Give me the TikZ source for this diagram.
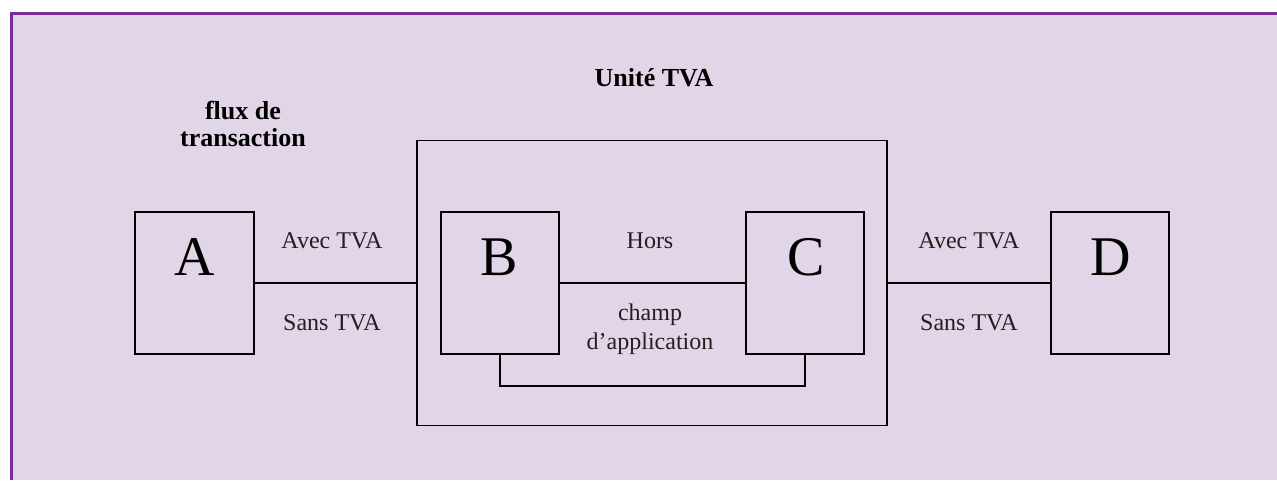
\documentclass[tikz,border=0pt]{standalone}
\usepackage{fontspec}
\setmainfont{Liberation Serif}
\definecolor{bgl}{HTML}{E1D5E7}
\definecolor{purp}{HTML}{7B2D9B}
\definecolor{txt}{HTML}{231F20}
\begin{document}
\begin{tikzpicture}[x=1pt,y=-1pt,
  box/.style={draw=black,line width=1.8pt,minimum width=#1,inner sep=0pt},
  conn/.style={draw=black,line width=1.8pt},
  lbl/.style={text=txt,font=\fontsize{24}{29}\selectfont,align=center,inner sep=0pt},
  ttl/.style={text=black,font=\fontsize{26}{27}\bfseries\selectfont,align=center,inner sep=0pt},
  big/.style={text=black,font=\fontsize{56}{60}\selectfont,inner sep=0pt}]
\useasboundingbox (0,0) rectangle (1277,480);
\fill[white] (0,0) rectangle (1277,480);
\fill[bgl] (11.5,13.5) rectangle (1277,480);
\draw[purp,line width=3pt] (11.5,480) -- (11.5,13.5) -- (1277,13.5);
% boxes
\node[box=470pt,minimum height=285pt] (U) at (652,283) {};
\node[box=119pt,minimum height=142pt] (A) at (194.5,283) {};
\node[box=118pt,minimum height=142pt] (B) at (500,283) {};
\node[box=118pt,minimum height=142pt] (C) at (805,283) {};
\node[box=118pt,minimum height=142pt] (D) at (1110,283) {};
% letters
\node[big] (Al) at (195,257) {A};
\node[big] (Bl) at (499,257) {B};
\node[big] (Cl) at (806,257) {C};
\node[big] (Dl) at (1111,257) {D};
% titles
\node[ttl] (ut) at (654,78) {Unité TVA};
\node[ttl] (fl) at (243,124) {flux de\\transaction};
% labels
\node[lbl] (a1) at (332,241) {Avec TVA};
\node[lbl] (s1) at (332,323) {Sans TVA};
\node[lbl] (a2) at (969,241) {Avec TVA};
\node[lbl] (s2) at (969,323) {Sans TVA};
\node[lbl] (ho) at (650,241) {Hors};
\node[lbl] (ch) at (650,329) {champ\\d’application};
% connectors
\draw[conn] (A.east) -- (U.west);
\draw[conn] (B.east) -- (C.west);
\draw[conn] (U.east) -- (D.west);
\draw[conn] (B.south) -- ++(0,31) -| (C.south);
\end{tikzpicture}
\end{document}
